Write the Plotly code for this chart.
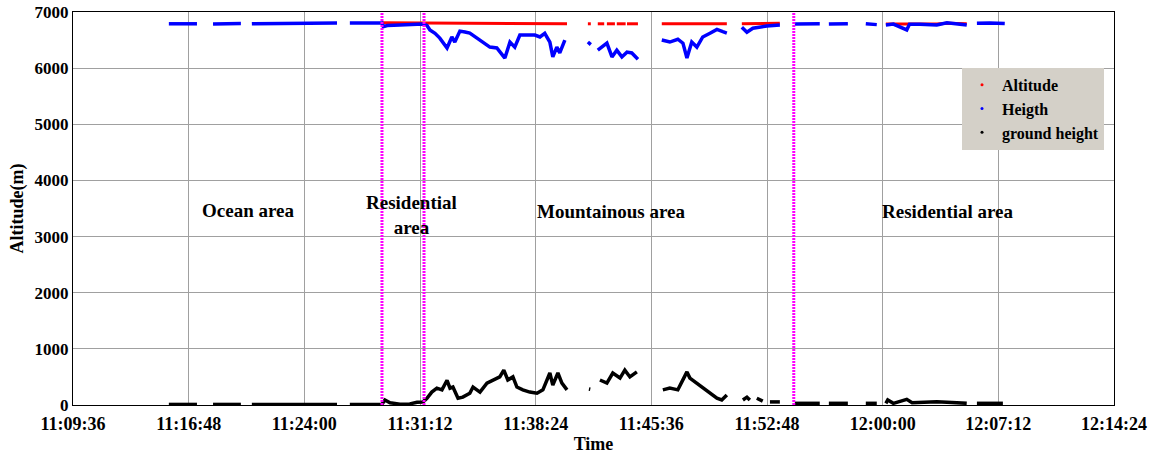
import plotly.graph_objects as go

DAY = "2020-01-01 "

# ---- tick labels ----
tick_labels = ["11:09:36", "11:16:48", "11:24:00", "11:31:12", "11:38:24",
               "11:45:36", "11:52:48", "12:00:00", "12:07:12", "12:14:24"]
y_ticks = [0, 1000, 2000, 3000, 4000, 5000, 6000, 7000]

# ---- Heigth (blue) ----
height_time = [
    "11:15:34", "11:16:30", "11:17:19", None,
    "11:18:19", "11:19:10", "11:20:03", None,
    "11:20:44", "11:22:30", "11:24:00", "11:26:02", None,
    "11:26:50", "11:28:00", "11:28:50", "11:28:55", "11:29:10", "11:29:57", "11:30:34",
    "11:31:01", "11:31:23", "11:31:38", "11:31:49", "11:32:08", "11:32:26", "11:32:53",
    "11:33:11", "11:33:22", "11:33:41", "11:34:00", "11:34:18", "11:34:45", "11:35:07",
    "11:35:33", "11:35:59", "11:36:29", "11:36:48", "11:37:06", "11:37:25", "11:37:51",
    "11:38:21", "11:38:40", "11:38:58", "11:39:17", "11:39:28", "11:39:43", "11:39:54",
    "11:40:13", None,
    "11:41:39", "11:41:50", None,
    "11:42:16", "11:42:50", "11:43:09", "11:43:27", "11:43:46", "11:44:05", "11:44:23",
    "11:44:46", None,
    "11:46:15", "11:46:45", "11:47:15", "11:47:34", "11:47:49", "11:48:07", "11:48:26",
    "11:48:48", "11:49:15", "11:49:41", "11:50:03", "11:50:18", None,
    "11:51:14", "11:51:33", "11:51:55", "11:52:21", "11:52:47", "11:53:36", None,
    "11:54:32", "11:55:20", "11:56:05", None,
    "11:56:39", "11:57:50", None,
    "11:58:57", "11:59:38", None,
    "12:00:12", "12:00:40", "12:01:30", "12:01:40", "12:02:19", "12:03:22", "12:04:00",
    "12:04:48", "12:05:14", None,
    "12:05:52", "12:06:40", "12:07:36",
]
height_m = [
    6790, 6785, 6790, None,
    6785, 6790, 6795, None,
    6790, 6795, 6800, 6805, None,
    6805, 6810, 6805, 6740, 6760, 6770, 6775,
    6770, 6785, 6760, 6680, 6620, 6535, 6360,
    6555, 6465, 6660, 6645, 6625, 6535, 6465,
    6375, 6360, 6180, 6465, 6375, 6590, 6590,
    6590, 6555, 6620, 6465, 6200, 6375, 6270,
    6500, None,
    6465, 6420, None,
    6320, 6445, 6200, 6320, 6200, 6285, 6270,
    6160, None,
    6500, 6465, 6515, 6445, 6180, 6465, 6375,
    6555, 6620, 6690, 6650, 6625, None,
    6730, 6640, 6710, 6730, 6750, 6770, None,
    6785, 6790, 6790, None,
    6785, 6790, None,
    6790, 6775, None,
    6770, 6785, 6680, 6780, 6780, 6770, 6810,
    6790, 6770, None,
    6800, 6805, 6795,
]

# ---- Altitude (red) ----
altitude_time = [
    "11:28:50", "11:31:27", "11:34:00", "11:37:00", "11:40:21", None,
    "11:41:39", "11:41:50", None,
    "11:42:16", "11:42:40", None,
    "11:42:50", "11:43:20", None,
    "11:43:27", "11:44:00", None,
    "11:44:05", "11:44:46", None,
    "11:46:15", "11:48:00", "11:50:18", None,
    "11:51:14", "11:52:30", "11:53:36", None,
    "12:00:12", "12:02:19", "12:03:22", "12:04:00", "12:05:14",
]
altitude_m = [
    6810, 6805, 6800, 6795, 6790, None,
    6790, 6790, None,
    6790, 6790, None,
    6790, 6790, None,
    6790, 6790, None,
    6790, 6790, None,
    6790, 6790, 6790, None,
    6790, 6795, 6800, None,
    6785, 6780, 6785, 6800, 6790,
]

# ---- ground height (black) ----
ground_time = [
    "11:15:34", "11:17:19", None,
    "11:18:19", "11:20:03", None,
    "11:20:44", "11:26:02", None,
    "11:26:50", "11:28:50", "11:29:01", "11:29:20", "11:29:57", "11:30:34", "11:31:01",
    "11:31:23", "11:31:38", "11:31:56", "11:32:15", "11:32:34", "11:32:53", "11:33:04",
    "11:33:15", "11:33:34", "11:33:52", "11:34:18", "11:34:30", "11:34:56", "11:35:22",
    "11:35:44", "11:36:10", "11:36:25", "11:36:40", "11:36:59", "11:37:14", "11:37:36",
    "11:38:02", "11:38:29", "11:38:51", "11:39:17", "11:39:28", "11:39:47", "11:40:02",
    "11:40:21", None,
    "11:41:43", "11:41:48", None,
    "11:42:24", "11:42:50", "11:43:12", "11:43:39", "11:43:57", "11:44:16", "11:44:42",
    None,
    "11:46:19", "11:46:45", "11:47:15", "11:47:34", "11:47:49", "11:48:00", "11:48:26",
    "11:48:48", "11:49:15", "11:49:41", "11:49:59", "11:50:18", None,
    "11:51:18", "11:51:33", "11:51:44", None,
    "11:52:10", "11:52:32", None,
    "11:52:59", "11:53:36", None,
    "11:54:32", "11:56:05", None,
    "11:56:39", "11:57:50", None,
    "11:58:57", "11:59:38", None,
    "12:00:12", "12:00:19", "12:00:40", "12:01:30", "12:01:50", "12:02:56", "12:03:22",
    "12:04:00", "12:04:48", "12:05:14", None,
    "12:05:52", "12:07:29",
]
ground_m = [
    10, 10, None,
    10, 10, None,
    10, 10, None,
    10, 15, 90, 40, 15, 20, 50,
    55, 120, 230, 300, 270, 440, 300,
    320, 120, 140, 210, 320, 230, 390,
    445, 500, 620, 445, 500, 320, 270,
    230, 210, 270, 570, 355, 570, 390,
    270, None,
    285, 280, None,
    445, 390, 570, 480, 620, 500, 590,
    None,
    270, 300, 270, 445, 590, 480, 390,
    300, 210, 120, 90, 180, None,
    90, 140, 90, None,
    120, 70, None,
    55, 55, None,
    30, 30, None,
    30, 30, None,
    30, 30, None,
    30, 90, 30, 100, 40, 55, 60,
    50, 40, 30, None,
    30, 30,
]

# ---- area boundaries and labels ----
boundary_times = ["11:28:50", "11:31:27", "11:54:28"]
area_labels = ["Ocean area", "Residential<br>area", "Mountainous area", "Residential area"]
area_label_times = ["11:20:29", "11:30:42", "11:43:05", "12:04:03"]
area_label_alt = [3470, 3380, 3440, 3440]


def ts(lst):
    return [DAY + t if t else None for t in lst]


FONT = "Liberation Serif"

fig = go.Figure()
fig.add_trace(go.Scatter(x=ts(altitude_time), y=altitude_m, mode="lines",
                         line=dict(color="#ff0000", width=3), showlegend=False,
                         connectgaps=False))
fig.add_trace(go.Scatter(x=ts(height_time), y=height_m, mode="lines",
                         line=dict(color="#0000ff", width=3.5), showlegend=False,
                         connectgaps=False))
fig.add_trace(go.Scatter(x=ts(ground_time), y=ground_m, mode="lines",
                         line=dict(color="#000000", width=3.5), showlegend=False,
                         connectgaps=False))
# legend entries (dot markers as in the reference)
for name, col in [("Altitude", "#ff0000"), ("Heigth", "#0000ff"), ("ground height", "#000000")]:
    fig.add_trace(go.Scatter(x=[None], y=[None], mode="markers", name=name,
                             marker=dict(color=col, size=3)))

for bt in boundary_times:
    fig.add_shape(type="line", xref="x", yref="paper", x0=DAY + bt, x1=DAY + bt,
                  y0=0, y1=1, line=dict(color="#ff00ff", width=3, dash="2px,1px"))

for txt, t, a in zip(area_labels, area_label_times, area_label_alt):
    fig.add_annotation(x=DAY + t, y=a, text=txt, showarrow=False,
                       font=dict(family=FONT, size=19, color="black", weight="bold"))

fig.update_layout(
    width=1151, height=455,
    margin=dict(l=73, r=37, t=12, b=50, autoexpand=False),
    paper_bgcolor="white", plot_bgcolor="white",
    font=dict(family=FONT, size=18, color="black", weight="bold"),
    legend=dict(x=0.854, y=0.858, xanchor="left", yanchor="top",
                bgcolor="#d4d0c8", borderwidth=0,
                font=dict(family=FONT, size=16, color="black", weight="bold"),
                tracegroupgap=0, itemwidth=30),
)
fig.update_xaxes(
    type="date", automargin=False,
    range=[DAY + tick_labels[0], DAY + tick_labels[-1]],
    tickvals=[DAY + t for t in tick_labels], ticktext=tick_labels,
    tickfont=dict(family=FONT, size=18, weight="bold"), ticklabelstandoff=2,
    showgrid=True, gridcolor="#a0a0a0", gridwidth=1,
    showline=True, linecolor="black", linewidth=1, mirror=True,
    ticks="", zeroline=False,
    title=dict(text="Time", font=dict(family=FONT, size=18, weight="bold"), standoff=4),
)
fig.update_yaxes(
    range=[0, 7000], tickvals=y_ticks, automargin=False,
    tickfont=dict(family=FONT, size=17, weight="bold"),
    showgrid=True, gridcolor="#a0a0a0", gridwidth=1,
    showline=True, linecolor="black", linewidth=1, mirror=True,
    ticks="", zeroline=False,
    title=dict(text="Altitude(m)", font=dict(family=FONT, size=18, weight="bold"), standoff=6),
)

fig.write_html("out.html")
